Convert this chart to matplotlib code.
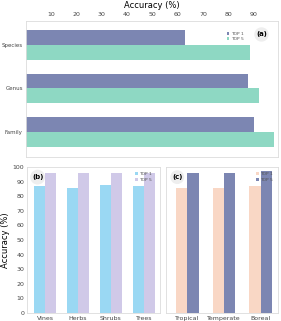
import numpy as np
import matplotlib.pyplot as plt

plt.rcParams.update({'font.size': 5, 'font.family': 'DejaVu Sans'})

# panel (a) data
taxa = ['Species', 'Genus', 'Family']
taxa_top1 = [63.0, 87.6, 90.2]
taxa_top5 = [88.6, 92.3, 98.0]

# panel (b) data
growth = ['Vines', 'Herbs', 'Shrubs', 'Trees']
growth_top1 = [86.8, 85.9, 87.9, 86.9]
growth_top5 = [95.5, 95.5, 96.0, 96.0]

# panel (c) data
climate = ['Tropical', 'Temperate', 'Boreal']
climate_top1 = [85.9, 85.9, 86.9]
climate_top5 = [95.5, 95.5, 97.0]

slate = '#7c86b2'
mint = '#8ed8c3'
sky = '#9ad8f3'
lavender = '#d0c9e8'
peach = '#f9d7c5'
frame = '#dcdcdc'


def style(ax):
    for s in ax.spines.values():
        s.set_color(frame)
        s.set_linewidth(0.6)
    ax.tick_params(length=0, colors='#444444', labelsize=4.5, pad=2)


def tag(ax, txt, x, y):
    ax.text(x, y, txt, transform=ax.transAxes, fontsize=5, fontweight='bold',
            ha='center', va='center',
            bbox=dict(boxstyle='circle,pad=0.25', fc='#eeeeee', ec='none'))


def small_legend(ax, anchor):
    ax.legend(loc='upper right', bbox_to_anchor=anchor, fontsize=3.2, frameon=False,
              handlelength=0.6, handleheight=0.6, handletextpad=0.3, labelspacing=0.3,
              labelcolor='#555555')


fig = plt.figure(figsize=(2.81, 3.21), dpi=100)

# (a)
ax1 = fig.add_axes([0.091, 0.511, 0.898, 0.424])
y = np.arange(len(taxa))
h = 0.34
ax1.barh(y - h / 2, taxa_top1, height=h, color=slate, label='TOP 1')
ax1.barh(y + h / 2, taxa_top5, height=h, color=mint, label='TOP 5')
ax1.set_ylim(2.57, -0.545)
ax1.set_xlim(0, 99.6)
ax1.set_yticks(y)
ax1.set_yticklabels(taxa)
ax1.set_xticks(np.arange(10, 91, 10))
ax1.xaxis.tick_top()
ax1.xaxis.set_label_position('top')
ax1.set_xlabel('Accuracy (%)', fontsize=6, labelpad=3)
style(ax1)
ax1.tick_params(axis='y', labelsize=4)
ax1.tick_params(axis='x', pad=3)
small_legend(ax1, (0.88, 0.95))
tag(ax1, '(a)', 0.935, 0.9)

# (b)
ax2 = fig.add_axes([0.096, 0.025, 0.473, 0.455])
x = np.arange(len(growth))
w = 0.34
ax2.bar(x - w / 2, growth_top1, width=w, color=sky, label='TOP 1')
ax2.bar(x + w / 2, growth_top5, width=w, color=lavender, label='TOP 5')
ax2.set_xlim(-0.55, 3.49)
ax2.set_ylim(0, 100)
ax2.set_yticks(np.arange(0, 101, 10))
ax2.set_xticks(x)
ax2.set_xticklabels(growth)
ax2.set_ylabel('Accuracy (%)', fontsize=6, labelpad=2)
style(ax2)
small_legend(ax2, (0.97, 0.99))
tag(ax2, '(b)', 0.08, 0.93)

# (c)
ax3 = fig.add_axes([0.591, 0.025, 0.398, 0.455])
x = np.arange(len(climate))
w = 0.31
ax3.bar(x - w / 2, climate_top1, width=w, color=peach, label='TOP 1')
ax3.bar(x + w / 2, climate_top5, width=w, color=slate, label='TOP 5')
ax3.set_xlim(-0.57, 2.46)
ax3.set_ylim(0, 100)
ax3.set_yticks([])
ax3.set_xticks(x)
ax3.set_xticklabels(climate)
style(ax3)
small_legend(ax3, (0.99, 0.99))
tag(ax3, '(c)', 0.1, 0.93)

fig.savefig('out.png', dpi=100)
